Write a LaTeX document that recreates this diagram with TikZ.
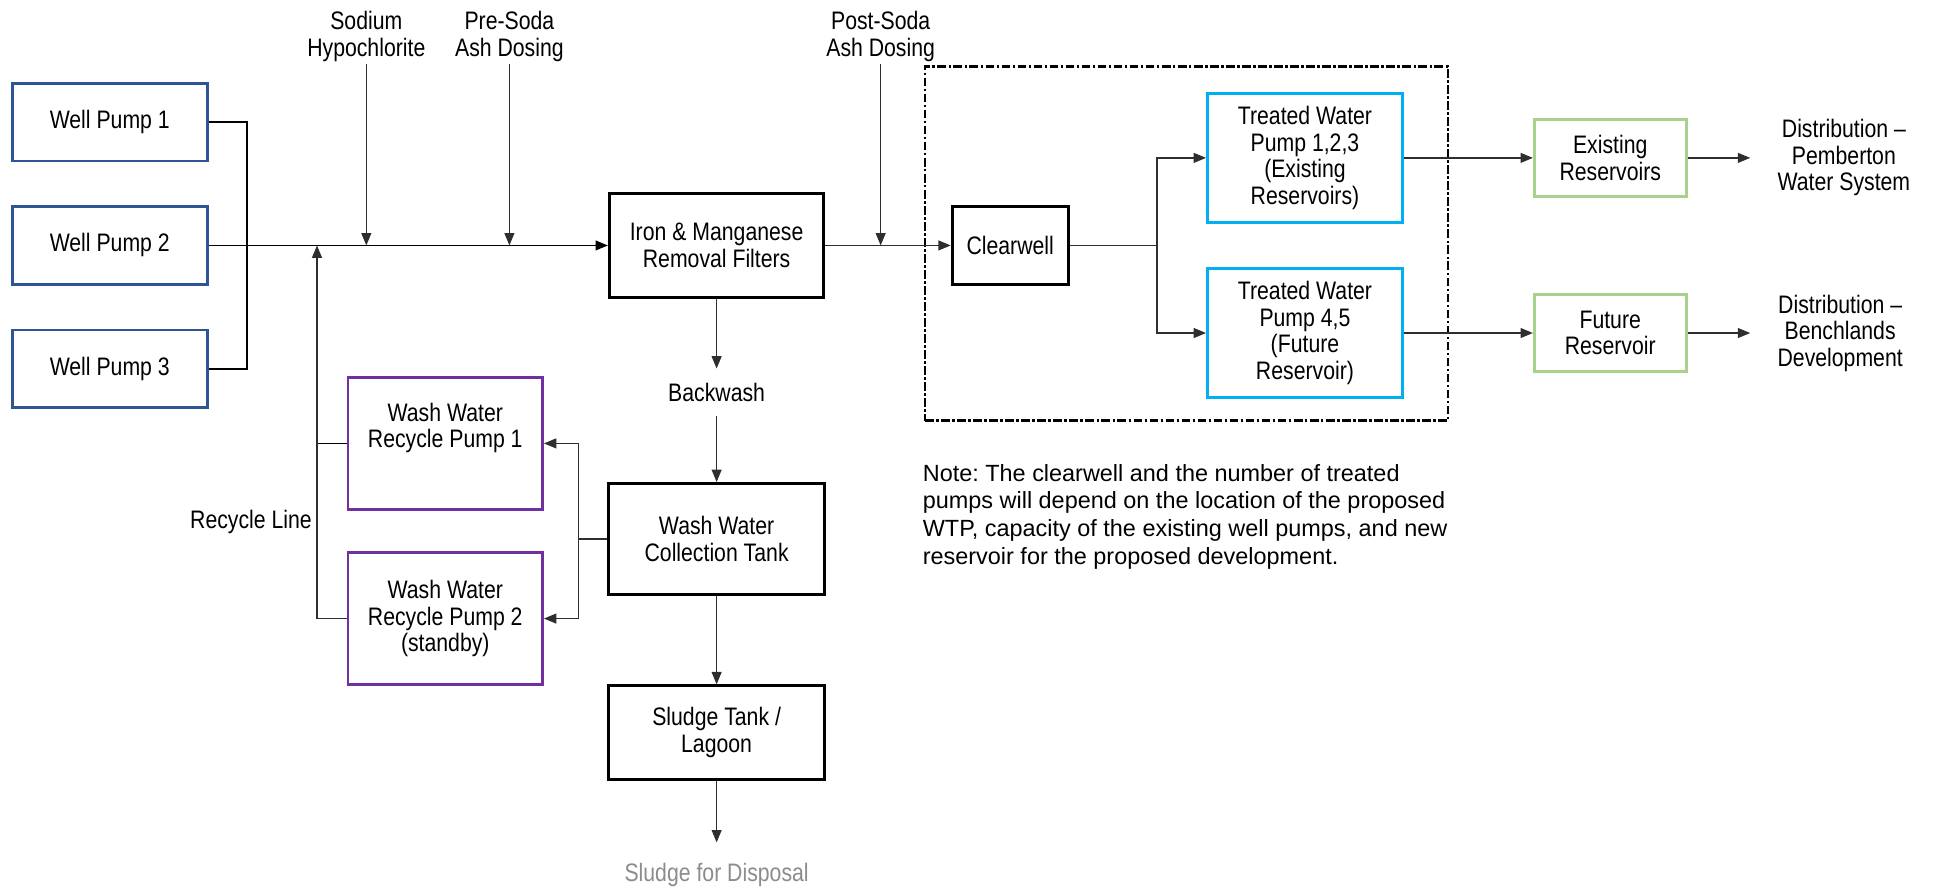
\documentclass[tikz,border=0pt]{standalone}
\usepackage{fontspec}
\setmainfont{Liberation Sans}
\newfontfamily\narrow{Liberation Sans}[FakeStretch=0.84]
\usetikzlibrary{arrows.meta,positioning}
\definecolor{wellblue}{HTML}{2F5597}
\definecolor{washpurple}{HTML}{7030A0}
\definecolor{pumpcyan}{HTML}{00B0F0}
\definecolor{resgreen}{HTML}{A9D18E}
\definecolor{linegray}{HTML}{2E2E2E}
\definecolor{sludgegray}{HTML}{8C8C8C}
\frenchspacing

\begin{document}
\begin{tikzpicture}[x=1pt, y=-1pt,
  font=\narrow\fontsize{20.5}{21.5}\selectfont,
  box/.style={draw, line width=2.4pt, align=center, inner sep=0pt},
  wellbox/.style={box, draw=wellblue, line width=2.2pt, minimum width=158pt, minimum height=63pt},
  washbox/.style={box, draw=washpurple, line width=2pt, minimum width=158pt, minimum height=107pt},
  twbox/.style={box, draw=pumpcyan, line width=2.4pt, minimum width=158pt, minimum height=105pt},
  resbox/.style={box, draw=resgreen, line width=2.4pt, minimum width=123pt, minimum height=62pt},
  tag/.style={align=center, inner sep=2pt},
  flow/.style={draw=linegray, line width=1.1pt, -{Triangle[length=10pt,width=8pt]}},
  pipe/.style={draw=linegray, line width=1.1pt}]
\useasboundingbox (0,0) rectangle (1568,720);

\node[wellbox] (wp1) at (89,99) {Well Pump 1};
\node[wellbox] (wp2) at (89,199) {Well Pump 2};
\node[wellbox] (wp3) at (89,299) {Well Pump 3};
\node[box, minimum width=174pt, minimum height=84pt] (filters) at (581,199) {Iron \& Manganese\\Removal Filters};
\node[tag, minimum height=38pt] (backwash) at (581,318) {Backwash};
\node[box, minimum width=175pt, minimum height=90pt] (wwct) at (581,437) {Wash Water\\Collection Tank};
\node[box, minimum width=175pt, minimum height=76pt] (sludge) at (581,594) {Sludge Tank /\\Lagoon};
\node[tag, anchor=north, inner ysep=17pt, text=sludgegray] (disposal) at (581,683) {Sludge for Disposal};
\node[washbox] (wwrp1) at (361,359.5) {Wash Water\\Recycle Pump 1\\[8pt]};
\node[washbox] (wwrp2) at (361,501.5) {Wash Water\\Recycle Pump 2\\(standby)};
\node[tag, anchor=east] (recycle) at (255,423) {Recycle Line};

\node[tag, anchor=south] (naocl) at (297,52) {Sodium\\Hypochlorite};
\node[tag, anchor=south] (presoda) at (413,52) {Pre-Soda\\Ash Dosing};
\node[tag, anchor=south] (postsoda) at (714,52) {Post-Soda\\Ash Dosing};

\node[draw, line width=1.8pt, dash pattern=on 7pt off 2pt on 2pt off 2pt, minimum width=424pt, minimum height=287pt] (plant) at (962,197.5) {};
\node[box, minimum width=94pt, minimum height=63pt] (clearwell) at (819,199) {Clearwell};
\node[twbox] (tw1) at (1058,128) {Treated Water\\Pump 1,2,3\\(Existing\\Reservoirs)};
\node[twbox] (tw2) at (1058,270) {Treated Water\\Pump 4,5\\(Future\\Reservoir)};
\node[resbox] (exres) at (1305.5,128) {Existing\\Reservoirs};
\node[resbox] (futres) at (1305.5,270) {Future\\Reservoir};
\node[tag, anchor=west, inner xsep=22pt] (dist1) at (1419,128) {Distribution –\\Pemberton\\Water System};
\node[tag, anchor=west, inner xsep=22pt] (dist2) at (1419,270) {Distribution –\\Benchlands\\Development};

\node[align=left, anchor=north west, inner sep=0pt, font=\fontsize{19}{22.5}\selectfont] (note) at (748,376)
  {Note: The clearwell and the number of treated\\pumps will depend on the location of the proposed\\WTP, capacity of the existing well pumps, and new\\reservoir for the proposed development.};

\coordinate (wj) at (200,199);
\coordinate (rj) at (257,199);
\coordinate (j1) at (297,199);
\coordinate (j2) at (413,199);
\coordinate (j3) at (714,199);
\coordinate (mj) at (469,437);
\coordinate (cb) at (938,199);

\draw[pipe, black, line width=1.5pt] (wp1) -| (wj);
\draw[pipe, black, line width=1.5pt] (wp3) -| (wj);
\draw[flow, black] (wp2) -- (filters);
\draw[flow] (naocl) -- (j1);
\draw[flow] (presoda) -- (j2);
\draw[flow] (postsoda) -- (j3);
\draw[flow] (filters) -- (clearwell);
\draw[flow] (filters) -- (backwash);
\draw[flow] (backwash) -- (wwct);
\draw[flow] (wwct) -- (sludge);
\draw[flow] (sludge) -- (disposal);
\draw[pipe] (wwct) -- (mj);
\draw[flow] (mj) |- (wwrp1);
\draw[flow] (mj) |- (wwrp2);
\draw[pipe, black] (wwrp1) -- (wwrp1 -| rj);
\draw[flow] (wwrp2) -| (rj);
\draw[pipe] (clearwell) -- (cb);
\draw[flow] (cb) |- (tw1);
\draw[flow] (cb) |- (tw2);
\draw[flow] (tw1) -- (exres);
\draw[flow] (tw2) -- (futres);
\draw[flow] (exres) -- (dist1);
\draw[flow] (futres) -- (dist2);
\end{tikzpicture}
\end{document}
